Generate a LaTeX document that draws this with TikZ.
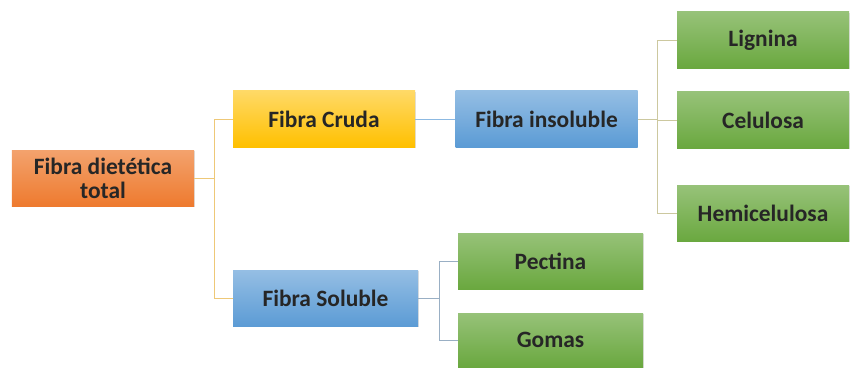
\documentclass[tikz,border=0pt]{standalone}
\usepackage{fontspec}
\setmainfont{Carlito}
\usetikzlibrary{shadows}

\definecolor{naranja}{HTML}{EE7A2E}
\definecolor{amarillo}{HTML}{FFC000}
\definecolor{azul}{HTML}{5B9BD5}
\definecolor{verde}{HTML}{6AA83F}

\tikzset{
  caja/.style={rectangle, minimum width=5.46cm, minimum height=1.68cm,
    align=center, inner sep=2pt, text=black!85,
    font=\bfseries\fontsize{20}{21}\selectfont,
    drop shadow={opacity=0.25, shadow xshift=0.8pt, shadow yshift=-0.8pt}},
  cajanaranja/.style={caja, top color=naranja!70!white, bottom color=naranja},
  cajaamarilla/.style={caja, top color=amarillo!60!white, bottom color=amarillo},
  cajaazul/.style={caja, top color=azul!65!white, bottom color=azul},
  cajaverde/.style={caja, top color=verde!70!white, bottom color=verde},
  rama/.style={line width=0.6pt}
}

\begin{document}
\begin{tikzpicture}[x=0.03cm, y=-0.03cm]
      \useasboundingbox (0,0) rectangle (851,367);

      % Nodos
      \node[cajanaranja] (total) at (103,178.5) {Fibra dietética\\total};
      \node[cajaamarilla] (cruda) at (324,119) {Fibra Cruda};
      \node[cajaazul] (insoluble) at (546.5,119) {Fibra insoluble};
      \node[cajaazul, minimum width=5.55cm] (soluble) at (325.5,298.5) {Fibra Soluble};
      \node[cajaverde, minimum width=5.16cm] (lignina) at (763,40) {Lignina};
      \node[cajaverde, minimum width=5.16cm] (celulosa) at (763,120) {Celulosa};
      \node[cajaverde, minimum width=5.16cm] (hemicelulosa) at (763,213.5) {Hemicelulosa};
      \node[cajaverde, minimum width=5.55cm] (pectina) at (550.5,261) {Pectina};
      \node[cajaverde, minimum width=5.55cm, minimum height=1.62cm] (gomas) at (550.5,340) {Gomas};

      % Ramas
      \draw[rama, color=amarillo!55!brown!60] (total.east) -- ++(20,0) |- (cruda.west);
      \draw[rama, color=amarillo!55!brown!60] (total.east) -- ++(20,0) |- (soluble.west);
      \draw[rama, color=azul!70] (cruda.east) -- (insoluble.west);
      \draw[rama, color=verde!45!brown!50] (insoluble.east) -- ++(20,0) |- (lignina.west);
      \draw[rama, color=verde!45!brown!50] (insoluble.east) -- ++(20,0) |- (celulosa.west);
      \draw[rama, color=verde!45!brown!50] (insoluble.east) -- ++(20,0) |- (hemicelulosa.west);
      \draw[rama, color=azul!50!gray!70] (soluble.east) -- ++(21,0) |- (pectina.west);
      \draw[rama, color=azul!50!gray!70] (soluble.east) -- ++(21,0) |- (gomas.west);
    \end{tikzpicture}
\end{document}
